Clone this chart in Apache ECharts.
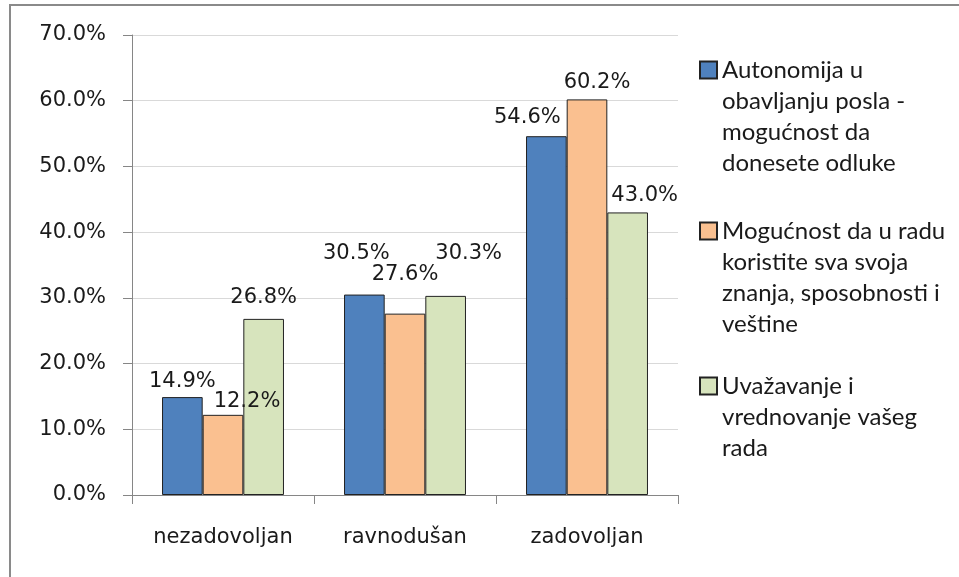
<!doctype html>
<html>
<head>
	<meta charset="UTF-8">
	<title>Zadovoljstvo poslom</title>
	<script src="https://cdn.jsdelivr.net/npm/echarts@6/dist/echarts.min.js"></script>
	<style>
		html, body { margin: 0; padding: 0; background: #fff; }
		#chart { width: 959px; height: 577px; }
	</style>
</head>
<body>
	<div id="chart"></div>
	<script type="text/javascript">
		// podaci
		var categories = ['nezadovoljan', 'ravnodušan', 'zadovoljan'];
		var seriesNames = [
			'Autonomija u\nobavljanju posla -\nmogućnost da\ndonesete odluke',
			'Mogućnost da u radu\nkoristite sva svoja\nznanja, sposobnosti i\nveštine',
			'Uvažavanje i\nvrednovanje vašeg\nrada'
		];
		var autonomija = [14.9, 30.5, 54.6];
		var mogucnost = [12.2, 27.6, 60.2];
		var uvazavanje = [26.8, 30.3, 43.0];
		var yMin = 0, yMax = 70, yStep = 10;

		var textColor = '#1a1a1a';
		var axisColor = '#868686';
		var lineH = 31;

		function pct(v) {
			return v.toFixed(1) + '%';
		}

		// stubac + pomeranje natpisa (kao u Excelu)
		function makeBar(name, values, color, shifts) {
			return {
				name: name,
				type: 'bar',
				barGap: '0%',
				barCategoryGap: '33%',
				itemStyle: { color: color, borderColor: '#222', borderWidth: 1 },
				label: {
					show: true,
					position: 'top',
					distance: 5,
					fontFamily: 'DejaVu Sans',
					fontSize: 21,
					color: textColor,
					formatter: function (p) { return pct(p.value); }
				},
				data: values.map(function (v, i) {
					return { value: v, label: { offset: shifts[i] } };
				})
			};
		}

		// legenda: kvadrat poravnat sa prvim redom teksta
		function makeLegend(name, firstLineY) {
			var n = name.split('\n').length;
			return {
				data: [name],
				orient: 'vertical',
				left: 699,
				top: firstLineY - (2 * n - 1) * lineH / 2,
				padding: 0,
				icon: 'rect',
				itemWidth: 17,
				itemHeight: 17,
				selectedMode: false,
				formatter: function (s) { return new Array(n).join('\n') + s; },
				textStyle: { fontFamily: 'Lato', fontSize: 24, lineHeight: lineH, color: textColor }
			};
		}

		var option = {
			animation: false,
			backgroundColor: '#fff',
			graphic: [{
				type: 'rect',
				silent: true,
				z: -10,
				shape: { x: 10, y: 5, width: 1200, height: 800 },
				style: { fill: 'none', stroke: '#8a8a8a', lineWidth: 2 }
			}],
			grid: { left: 132, right: 281, top: 35, bottom: 82, outerBoundsMode: 'none' },
			legend: [
				makeLegend(seriesNames[0], 70),
				makeLegend(seriesNames[1], 231),
				makeLegend(seriesNames[2], 386)
			],
			xAxis: {
				type: 'category',
				data: categories,
				axisLine: { lineStyle: { color: axisColor } },
				axisTick: { show: true, length: 9, lineStyle: { color: axisColor } },
				axisLabel: { fontFamily: 'DejaVu Sans', fontSize: 21, color: textColor, margin: 32 }
			},
			yAxis: {
				type: 'value',
				min: yMin,
				max: yMax,
				interval: yStep,
				axisLine: { show: true, lineStyle: { color: axisColor } },
				axisTick: { show: true, length: 9, lineStyle: { color: axisColor } },
				splitLine: { lineStyle: { color: '#d9d9d9' } },
				axisLabel: {
					fontFamily: 'DejaVu Sans',
					fontSize: 21,
					color: textColor,
					margin: 26,
					formatter: pct
				}
			},
			series: [
				makeBar(seriesNames[0], autonomija, '#4F81BD', [[0, 0], [-8, -26], [-19, -3]]),
				makeBar(seriesNames[1], mogucnost, '#FAC090', [[24, 2], [0, -24], [10, -1]]),
				makeBar(seriesNames[2], uvazavanje, '#D7E4BD', [[0, -6], [23, -27], [17, -1]])
			]
		};

		var chart = echarts.init(document.getElementById('chart'));
		chart.setOption(option);
	</script>
</body>
</html>
